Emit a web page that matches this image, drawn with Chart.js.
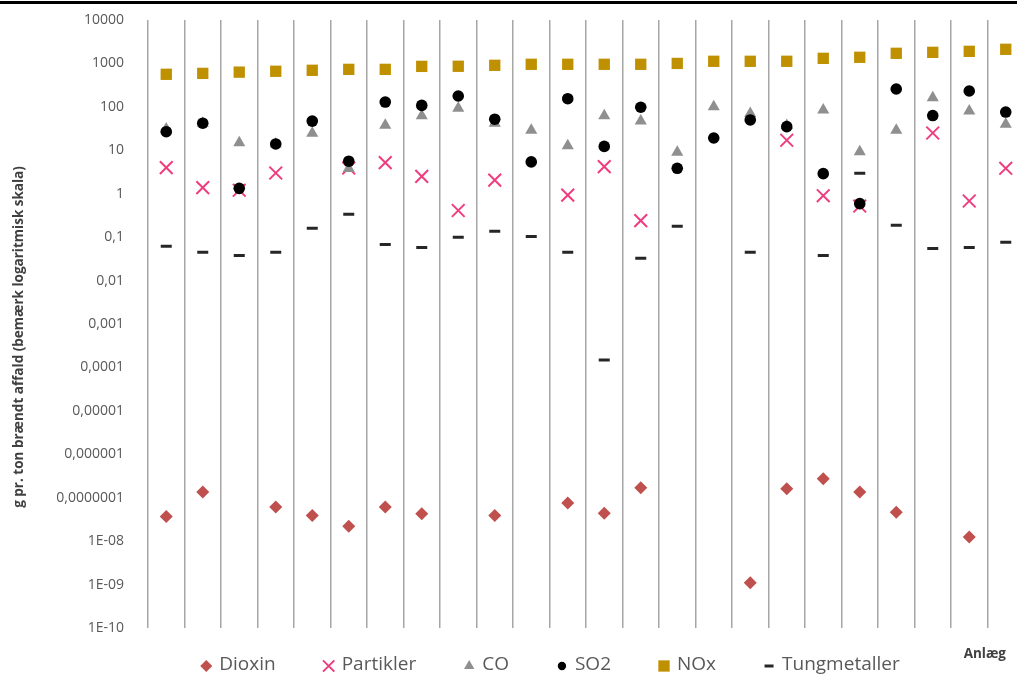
<!DOCTYPE html>
<html lang="da">
<head>
    <meta charset="UTF-8">
    <title>Emissioner pr. anlæg</title>
    <script src="https://cdn.jsdelivr.net/npm/chart.js"></script>
    <style>
        html, body { margin: 0; padding: 0; background: #fff; overflow: hidden; }
        .wrap { position: relative; width: 1017px; height: 678px; overflow: hidden; }
        .topline { position: absolute; left: 0; top: 1px; width: 100%; height: 3px; background: #000; }
        canvas { position: absolute; left: 0; top: 0; }
    </style>
</head>
<body>
<div class="wrap">
    <canvas id="emissionChart" width="1100" height="678"></canvas>
    <div class="topline"></div>
</div>

<script>
    // anlæg 1..24 (no names shown on the axis)
    const anlaeg = ['1','2','3','4','5','6','7','8','9','10','11','12','13','14','15','16','17','18','19','20','21','22','23','24'];

    // g pr. ton brændt affald, null = no value
    const dioxin = [3.7e-8, 1.35e-7, null, 6.1e-8, 3.9e-8, 2.2e-8, 6.1e-8, 4.3e-8, null, 3.9e-8, null, 7.6e-8,
                    4.4e-8, 1.7e-7, null, null, 1.1e-9, 1.6e-7, 2.75e-7, 1.35e-7, 4.6e-8, null, 1.25e-8, null];
    const partikler = [4.0, 1.38, 1.2, 3.0, null, 3.9, 5.2, 2.5, 0.41, 2.05, null, 0.93,
                       4.2, 0.24, null, null, null, 17, 0.9, 0.52, null, 25, 0.68, 3.85];
    const co = [31, 42, 15, 14, 24.6, 3.8, 37.6, 62, 93, 42, 29, 12.8,
                62, 47, 9.0, 101, 70, 37, 85, 9.3, 29, 163, 80, 39.6];
    const so2 = [26.8, 42, 1.33, 14, 47, 5.6, 129, 108, 178, 52, 5.4, 154,
                 12.3, 98, 3.85, 19.2, 50, 35, 2.9, 0.59, 258, 63, 232, 76];
    const nox = [562, 590, 630, 660, 695, 730, 730, 855, 860, 905, 955, 955,
                 955, 955, 1000, 1120, 1120, 1120, 1310, 1385, 1710, 1800, 1900, 2115];
    const tungmetaller = [0.062, 0.045, 0.038, 0.045, 0.16, 0.336, 0.068, 0.058, 0.099, 0.136, 0.104, 0.045,
                          0.000148, 0.0325, 0.177, null, 0.045, null, 0.038, 2.95, 0.187, 0.055, 0.058, 0.076];

    const tickValues = [1e-10, 1e-9, 1e-8, 1e-7, 1e-6, 1e-5, 1e-4, 1e-3, 1e-2, 1e-1, 1, 10, 100, 1000, 10000];
    const tickLabels = ['1E-10', '1E-09', '1E-08', '0,0000001', '0,000001', '0,00001', '0,0001', '0,001',
                        '0,01', '0,1', '1', '10', '100', '1000', '10000'];

    const yTitle = 'g pr. ton brændt affald (bemærk logaritmisk skala)';
    const xTitle = 'Anlæg';

    Chart.defaults.font.family = '"Open Sans", sans-serif';

    function series(label, values, style, color, radius, legendRadius, border, order) {
        return {
            label: label,
            data: values,
            showLine: false,
            pointStyle: style,
            pointRadius: radius,
            pointHoverRadius: radius,
            pointBackgroundColor: color,
            pointBorderColor: color,
            pointBorderWidth: border,
            legendRadius: legendRadius,
            order: order
        };
    }

    // axis titles + legend under the plot, placed the way Excel does it
    const excelTexts = {
        id: 'excelTexts',
        afterDraw(chart) {
            const ctx = chart.ctx;
            const area = chart.chartArea;
            ctx.save();

            // y title, rotated, a bit below the plot middle like the original
            ctx.font = 'bold 13.5px "Open Sans"';
            ctx.fillStyle = '#404040';
            ctx.textAlign = 'center';
            ctx.textBaseline = 'middle';
            ctx.save();
            ctx.translate(19, (area.top + area.bottom) / 2 + 13);
            ctx.rotate(-Math.PI / 2);
            ctx.fillText(yTitle, 0, 0);
            ctx.restore();

            ctx.textAlign = 'right';
            ctx.fillText(xTitle, area.right - 18, area.bottom + 26);

            ctx.font = '19px "Open Sans"';
            const sets = chart.data.datasets;
            const widths = sets.map(d => ctx.measureText(d.label).width);
            const markerToText = 13, itemGap = 53;
            let total = 6 + itemGap * (sets.length - 1);
            widths.forEach(w => { total += markerToText + w; });
            let x = chart.width / 2 - total / 2 + 6;
            const y = area.bottom + 37;

            ctx.textAlign = 'left';
            sets.forEach((d, i) => {
                ctx.fillStyle = d.pointBackgroundColor;
                ctx.strokeStyle = d.pointBorderColor;
                ctx.lineWidth = d.pointBorderWidth;
                Chart.helpers.drawPoint(ctx, {
                    pointStyle: d.pointStyle,
                    radius: d.legendRadius,
                    borderWidth: d.pointBorderWidth,
                    rotation: 0
                }, x, y + 1);
                ctx.fillStyle = '#595959';
                ctx.fillText(d.label, x + markerToText, y);
                x += markerToText + widths[i] + itemGap;
            });
            ctx.restore();
        }
    };

    const ctx = document.getElementById('emissionChart').getContext('2d');
    new Chart(ctx, {
        type: 'line',
        data: {
            labels: anlaeg,
            datasets: [
                series('Dioxin', dioxin, 'rectRot', '#c0504d', 6.5, 6, 0, 5),
                series('Partikler', partikler, 'crossRot', '#ee3d7f', 9, 8, 2, 4),
                series('CO', co, 'triangle', '#8f8f8f', 7, 6, 0, 3),
                series('SO2', so2, 'circle', '#000000', 5.8, 4.2, 0, 2),
                series('NOx', nox, 'rect', '#bf9000', 8, 8, 0, 1),
                series('Tungmetaller', tungmetaller, 'line', '#262626', 5.5, 4.5, 3, 0)
            ]
        },
        options: {
            responsive: false,
            animation: false,
            layout: { padding: { top: 20, right: 76, bottom: 50, left: 0 } },
            plugins: {
                legend: { display: false },
                tooltip: { enabled: false }
            },
            scales: {
                x: {
                    offset: true,
                    grid: { offset: true, color: '#a6a6a6', lineWidth: 1.5, drawTicks: false },
                    border: { display: false },
                    ticks: { display: false },
                    afterFit: s => { s.height = 0; }
                },
                y: {
                    type: 'logarithmic',
                    min: 1e-10,
                    max: 1e4,
                    grid: { display: false },
                    border: { display: false },
                    afterBuildTicks: s => { s.ticks = tickValues.map(v => ({ value: v })); },
                    afterFit: s => {
                        s.width = 148;
                        // tick padding should only push labels sideways, not the plot down
                        s.paddingTop = 9;
                        s.paddingBottom = 9;
                    },
                    ticks: {
                        autoSkip: false,
                        padding: 16,
                        color: '#595959',
                        font: { size: 14 },
                        callback: (v, i) => tickLabels[i]
                    }
                }
            }
        },
        plugins: [excelTexts]
    });
</script>
</body>
</html>
